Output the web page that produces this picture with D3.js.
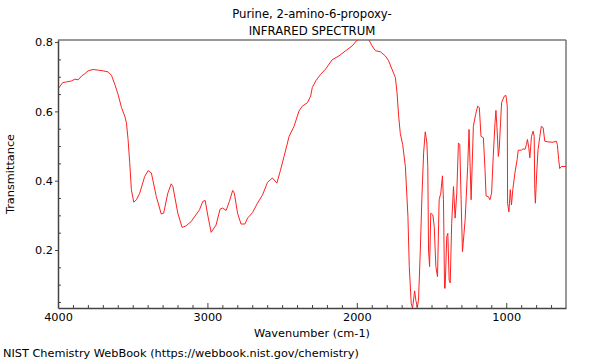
<!DOCTYPE html>
<html><head><meta charset="utf-8">
<script src="https://cdn.jsdelivr.net/npm/d3@7"></script>
<style>body{margin:0;background:#fff}svg{display:block}text{font-family:"DejaVu Sans",sans-serif}</style>
</head><body>
<svg id="c" width="600" height="360"></svg>
<script>
const wavenumber = [4000,3969,3942,3909,3887,3865,3842,3820,3798,3765,3731,3698,3665,3642,3620,3598,3575,3553,3542,3531,3520,3509,3493,3475,3453,3420,3397,3375,3342,3309,3293,3265,3242,3231,3198,3169,3142,3109,3053,3031,3015,2998,2975,2942,2915,2898,2875,2853,2831,2820,2798,2775,2749,2731,2698,2665,2631,2598,2565,2535,2513,2487,2453,2420,2387,2365,2331,2309,2298,2275,2242,2209,2165,2120,2075,2031,1998,1953,1920,1898,1875,1842,1809,1787,1765,1742,1731,1720,1709,1693,1675,1658,1649,1636,1627,1613,1605,1595,1587,1575,1565,1553,1542,1531,1525,1520,1513,1505,1491,1482,1471,1460,1449,1438,1427,1420,1413,1409,1398,1391,1382,1375,1365,1353,1342,1331,1320,1311,1302,1293,1275,1258,1249,1235,1220,1205,1191,1180,1169,1153,1142,1135,1120,1109,1098,1087,1075,1069,1060,1053,1047,1038,1031,1013,1002,993,991,982,973,965,956,942,927,920,898,887,875,865,858,849,842,831,820,813,809,805,796,787,775,765,753,742,720,687,665,658,649,642,631,600];
const transmittance = [0.664,0.683,0.685,0.688,0.693,0.691,0.702,0.709,0.717,0.721,0.719,0.717,0.714,0.704,0.678,0.649,0.611,0.586,0.567,0.519,0.452,0.374,0.338,0.345,0.364,0.412,0.429,0.422,0.354,0.304,0.306,0.364,0.391,0.383,0.306,0.265,0.270,0.282,0.316,0.340,0.343,0.301,0.251,0.272,0.318,0.321,0.314,0.340,0.372,0.364,0.306,0.275,0.275,0.292,0.308,0.335,0.359,0.395,0.408,0.393,0.427,0.470,0.528,0.557,0.601,0.615,0.625,0.644,0.669,0.688,0.707,0.722,0.749,0.760,0.775,0.789,0.806,0.81,0.807,0.789,0.775,0.772,0.760,0.746,0.722,0.698,0.654,0.586,0.536,0.504,0.441,0.297,0.152,0.046,0.032,0.082,0.055,0.036,0.055,0.200,0.345,0.480,0.541,0.509,0.441,0.200,0.152,0.306,0.301,0.268,0.152,0.123,0.345,0.364,0.414,0.345,0.090,0.089,0.239,0.248,0.113,0.105,0.277,0.383,0.292,0.364,0.509,0.504,0.345,0.195,0.287,0.441,0.548,0.345,0.557,0.591,0.615,0.611,0.528,0.524,0.432,0.356,0.354,0.345,0.364,0.470,0.567,0.603,0.538,0.470,0.490,0.567,0.625,0.644,0.646,0.615,0.335,0.310,0.374,0.330,0.374,0.422,0.461,0.488,0.488,0.492,0.490,0.504,0.519,0.495,0.466,0.528,0.543,0.528,0.374,0.335,0.422,0.490,0.528,0.557,0.553,0.514,0.512,0.511,0.514,0.504,0.461,0.435,0.441,0.441];
const xMajorTicks = [4000,3000,2000,1000];
const yMajorTicks = [0.2,0.4,0.6,0.8];
const titleLines = ["Purine, 2-amino-6-propoxy-","INFRARED SPECTRUM"];
const xLabel = "Wavenumber (cm-1)";
const yLabel = "Transmittance";
const footer = "NIST Chemistry WebBook (https://webbook.nist.gov/chemistry)";

const svg = d3.select("#c");
const L=58,R=566,T=40,B=308;
const x = d3.scaleLinear().domain([4000,600]).range([L,R]);
const y = d3.scaleLinear().domain([0.0326,0.806]).range([B,T]);

svg.append("clipPath").attr("id","clip").append("rect").attr("x",L).attr("y",T).attr("width",R-L).attr("height",B-T);

// frame top/right
svg.append("line").attr("x1",L).attr("x2",R).attr("y1",T).attr("y2",T).attr("stroke","#999").attr("stroke-width",2);
svg.append("line").attr("x1",R).attr("x2",R).attr("y1",T).attr("y2",B).attr("stroke","#777").attr("stroke-width",1.5);

// curve
const data = wavenumber.map((w,i)=>({w,t:transmittance[i]}));
svg.append("path").datum(data).attr("clip-path","url(#clip)")
  .attr("fill","none").attr("stroke","#ff2020").attr("stroke-width",1)
  .attr("d",d3.line().x(d=>x(d.w)).y(d=>y(d.t)));

// x axis
const xMinor = d3.range(700,4000,100).filter(v=>v%1000!==0);
const gxm = svg.append("g").attr("transform",`translate(0,${B})`)
  .call(d3.axisBottom(x).tickValues(xMinor).tickSize(-3).tickFormat(""));
gxm.select(".domain").remove();
gxm.selectAll("line").attr("stroke","#444");
const gx = svg.append("g").attr("transform",`translate(0,${B})`)
  .call(d3.axisBottom(x).tickValues(xMajorTicks).tickSize(-5).tickPadding(5).tickSizeOuter(0).tickFormat(d3.format("d")));
gx.select(".domain").attr("stroke","#444").attr("stroke-width",1.5);
gx.selectAll("line").attr("stroke","#444");
gx.selectAll("text").attr("font-size",11.3).attr("fill","#000").attr("font-family","DejaVu Sans");

// y axis
const yMinor = d3.range(1,17).map(i=>i*0.05).filter(v=>Math.abs(v*5-Math.round(v*5))>1e-6 && v>0.033);
const gym = svg.append("g").attr("transform",`translate(${L},0)`)
  .call(d3.axisLeft(y).tickValues(yMinor).tickSize(-3).tickFormat(""));
gym.select(".domain").remove();
gym.selectAll("line").attr("stroke","#444");
const gy = svg.append("g").attr("transform",`translate(${L},0)`)
  .call(d3.axisLeft(y).tickValues(yMajorTicks).tickSize(3).tickPadding(2).tickSizeOuter(0).tickFormat(d3.format(".1f")));
gy.select(".domain").attr("stroke","#444").attr("stroke-width",1.5);
gy.selectAll("line").attr("stroke","#444");
gy.selectAll("text").attr("font-size",11.3).attr("fill","#000").attr("font-family","DejaVu Sans");

// titles
svg.selectAll("text.title").data(titleLines).enter().append("text").attr("class","title")
  .attr("x",(L+R)/2).attr("y",(d,i)=>18+i*17).attr("text-anchor","middle").attr("font-size",11.7).text(d=>d);
svg.append("text").attr("x",(L+R)/2).attr("y",337).attr("text-anchor","middle").attr("font-size",11.3).text(xLabel);
svg.append("text").attr("transform",`translate(14,${(T+B)/2}) rotate(-90)`).attr("text-anchor","middle").attr("font-size",11.3).text(yLabel);
svg.append("text").attr("x",3).attr("y",357).attr("font-size",11.3).text(footer);
</script>
</body></html>
